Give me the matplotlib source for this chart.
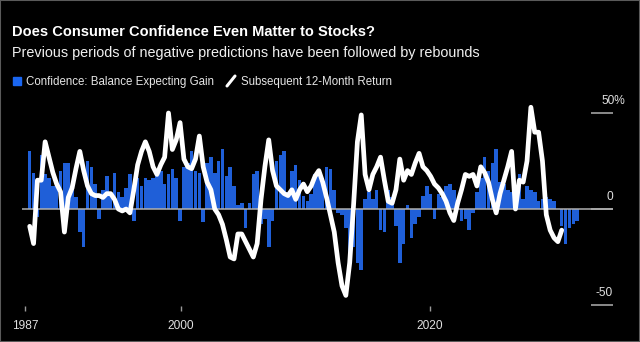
import matplotlib
matplotlib.use('Agg')
import matplotlib.pyplot as plt
from matplotlib.patches import Rectangle
from matplotlib.lines import Line2D

plt.rcParams['font.family'] = ['Liberation Sans', 'DejaVu Sans']

# quarterly readings, first quarter is Q4 1987
confidence = [
    30, 19, -4, 28, 18, 16, 12, 15, 20, 24, 24, 11, 6, -12, -20, 25, 22, 13, -5, 10,
    17, 8, 19, 9, 6, 11, 18, -6, 16, 12, 16, 15, 16, 17, 20, 13, 18, 21, 16, -6,
    22, 24, 30, 20, 19, -7, 24, 27, 19, 25, 31, 17, 22, 12, 2, 3, -10, 3, 18, 20,
    -8, -5, -20, -6, 25, 28, 30, 9, 20, 23, 15, 7, 4, 8, 18, 17, 16, 22, 21, 10,
    -2, -3, -10, -24, -20, -28, -32, 5, 9, 5, 10, -11, -12, 10, 6, -9, -28, -18, 2, -15,
    -8, -4, 7, 12, 8, -5, 8, 6, 12, 13, 10, 2, -6, -5, -11, -2, 9, 16, 27, 20,
    24, 31, 14, 13, 10, 9, 1, 18, 5, 12, 10, 9, 4, 5, 6, 5, 4, 0, -9, -18,
    -10, -8, -6,
]
returns_12m = [
    -9, -18, 15, 15, 35, 27, 19, 13, 9, -12, 6, 11, 21, 30, 20, 12, 8, 7, 7, 6,
    8, 8, 5, 0, -1, 0, -2, 10, 23, 30, 35, 30, 22, 18, 23, 27, 50, 31, 36, 45,
    26, 22, 21, 26, 38, 22, 14, 10, 0, -3, -8, -16, -25, -26, -13, -13, -17, -21, -25, -18,
    5, 22, 36, 20, 12, 10, 8, 7, 10, 5, 10, 13, 9, 12, 17, 20, 14, 6, -3, -12,
    -28, -40, -45, -28, 2, 35, 49, 18, 10, 18, 22, 27, 15, 4, 3, 10, 26, 15, 20, 18,
    24, 29, 22, 20, 17, 13, 11, 8, 4, -2, -6, 3, 10, 18, 17, 18, 12, 22, 19, 14,
    5, -2, 8, 15, 22, 30, 0, 15, 14, 25, 53, 40, 40, 25, -3, -11, -15, -17, -11,
]
year_labels = ['1987', '2000', '2020']
pct_levels = [50, 0, -50]
pct_labels = ['50%', '0', '-50']

BLUE = '#1f5fd8'
W, H = 640, 342


def fx(px):
    return px / W


def fy(py):
    return 1 - py / H


fig = plt.figure(figsize=(6.4, 3.42), dpi=100, facecolor='black')
ax = fig.add_axes([fx(22), fy(305.6), fx(613) - fx(22), fy(93.8) - fy(305.6)])
ax.set_facecolor('black')

ax.bar(range(len(confidence)), confidence, width=0.92, color=BLUE, linewidth=0, zorder=1)
ax.axhline(0, color='#b0b0b0', lw=1.1, zorder=2)
ax.plot(range(len(returns_12m)), returns_12m, color='white', lw=3.4,
        solid_joinstyle='round', solid_capstyle='round', zorder=3)

ax.set_xlim(-2.0, 151.3)
ax.set_ylim(-50.3, 60)
for s in ax.spines.values():
    s.set_visible(False)

ax.set_xticks([-1.2, 39.2, 103.8])
ax.set_xticklabels(year_labels)
ax.tick_params(axis='x', direction='out', length=3.6, width=1, colors='#9a9a9a',
               labelcolor='#e0e0e0', labelsize=8.6, pad=7)

ax.yaxis.tick_right()
ax.set_yticks(pct_levels)
ax.tick_params(axis='y', direction='in', length=15.8, width=1.1, colors='#b0b0b0',
               labelright=False)
for lvl, lab in zip(pct_levels, pct_labels):
    dx = 8.6 if lab.endswith('%') else 0
    ax.annotate(lab, xy=(1, lvl), xycoords=('axes fraction', 'data'),
                xytext=(dx, 6.5), textcoords='offset points',
                ha='right', va='baseline', color='#e0e0e0', fontsize=8.6)

# headline block
fig.text(fx(12), fy(36), 'Does Consumer Confidence Even Matter to Stocks?',
         color='white', fontsize=10.5, fontweight='bold', va='baseline')
fig.text(fx(12), fy(57), 'Previous periods of negative predictions have been followed by rebounds',
         color='#f0f0f0', fontsize=10.4, va='baseline')

# legend
fig.patches.append(Rectangle((fx(13.3), fy(85)), fx(7.7), 8.3 / H,
                             transform=fig.transFigure, color='#1a66f0'))
fig.text(fx(26), fy(85), 'Confidence: Balance Expecting Gain', color='#e6e6e6',
         fontsize=8.3, va='baseline')
fig.lines.append(Line2D([fx(227), fx(235)], [fy(86), fy(76)], transform=fig.transFigure,
                        color='white', lw=2.2, solid_capstyle='round'))
fig.text(fx(241), fy(85), 'Subsequent 12-Month Return', color='#e6e6e6',
         fontsize=8.3, va='baseline')

fig.patches.append(Rectangle((0, 0), 1, 1, transform=fig.transFigure, fill=False,
                             edgecolor='#5a5a5a', lw=1.5))

fig.savefig('out.png', dpi=100, facecolor='black')
